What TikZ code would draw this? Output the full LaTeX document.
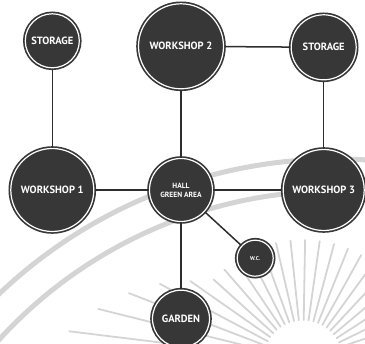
\documentclass[tikz,border=0pt]{standalone}
\usepackage{fontspec}
\usepackage{tikz}
\usetikzlibrary{positioning,backgrounds}
\newfontfamily\roomfont{PT Sans}
\definecolor{rmdark}{RGB}{55,55,55}
\definecolor{rmline}{RGB}{45,45,45}
\definecolor{rmmark}{RGB}{212,212,212}
\tikzstyle{room} = [circle, fill=rmdark, draw=rmdark, line width=1.7pt, double=white, double distance=1.2pt, text=white, inner sep=0pt, align=center, font=\roomfont\bfseries\fontsize{10.5}{10}\selectfont]
\tikzstyle{link} = [line width=1.5pt, color=rmline]
\tikzstyle{wmark} = [line width=5pt, color=rmmark]

\begin{document}
\begin{tikzpicture}[x=1pt, y=1pt]
\useasboundingbox (0,0) rectangle (365,-344);

% Watermark
\draw[wmark] (336,-647) ++(84:488) arc (84:137:488);
\draw[wmark] (336,-647) ++(84:456) arc (84:140:456);
\foreach \a in {12,19,...,173} {
  \pgfmathsetmacro{\rr}{\a>140 ? 120+(\a-140)*3.5 : 120}
  \draw[rmmark, line width=1.8pt, line cap=round] (303,-360) ++(\a:40) -- ++(\a:\rr-40);
}

% Rooms
\node[room, minimum size=63pt, font=\roomfont\bfseries\fontsize{7.5}{8}\selectfont] (hall) at (181,-190) {HALL\\[1pt]GREEN AREA};
\node[room, minimum size=83pt, left=54pt of hall] (ws1) {WORKSHOP 1};
\node[room, minimum size=81pt, right=69pt of hall] (ws3) {WORKSHOP 3};
\node[room, minimum size=85pt, above=68pt of hall] (ws2) {WORKSHOP 2};
\node[room, minimum size=54pt, above=79pt of ws1] (stl) {STORAGE};
\node[room, minimum size=65pt, above=68pt of ws3] (str) {STORAGE};
\node[room, minimum size=57pt, below=67pt of hall] (garden) {GARDEN};
\node[room, minimum size=36pt, below right=32pt and 38pt of hall, font=\roomfont\bfseries\fontsize{5.5}{6}\selectfont] (wc) {W.C.};

% Links
\draw[link] (stl) -- (ws1);
\draw[link] (ws2) -- (str);
\draw[link] (str) -- (ws3);
\draw[link] (ws2) -- (hall);
\draw[link] (ws1) -- (hall);
\draw[link] (hall) -- (ws3);
\draw[link] (hall) -- (garden);
\draw[link] (hall) -- (wc);
\end{tikzpicture}
\end{document}
